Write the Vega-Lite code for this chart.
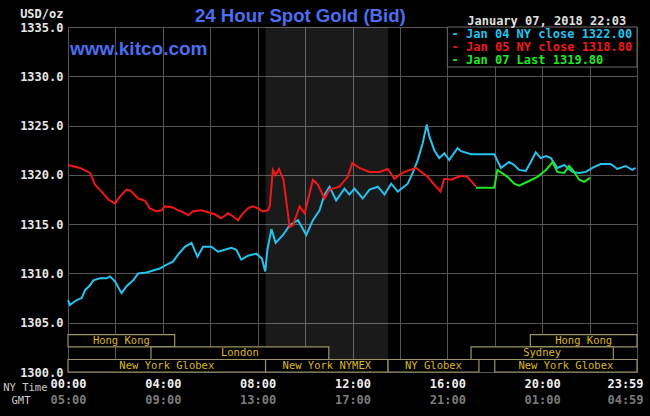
{
  "$schema": "https://vega.github.io/schema/vega-lite/v6.json",
  "width": 569,
  "height": 345,
  "autosize": "none",
  "padding": {"left": 68, "top": 27, "right": 13, "bottom": 44},
  "background": "#000000",
  "config": {"view": {"stroke": null}},
  "title": {"text": "24 Hour Spot Gold (Bid)", "anchor": "start", "frame": "group", "dx": 127, "dy": 19.5, "offset": 1, "font": "Liberation Sans", "fontSize": 18.6, "fontWeight": "bold", "color": "#4b6ff0"},
  "datasets": {
    "prices": [
      {"series":"Jan 04","hour":0.00,"price":1307.3},{"series":"Jan 04","hour":0.08,"price":1306.8},{"series":"Jan 04","hour":0.37,"price":1307.3},{"series":"Jan 04","hour":0.58,"price":1307.5},{"series":"Jan 04","hour":0.72,"price":1308.3},{"series":"Jan 04","hour":0.93,"price":1308.8},{"series":"Jan 04","hour":1.07,"price":1309.3},{"series":"Jan 04","hour":1.35,"price":1309.5},{"series":"Jan 04","hour":1.63,"price":1309.5},{"series":"Jan 04","hour":1.77,"price":1309.7},{"series":"Jan 04","hour":1.98,"price":1309.2},{"series":"Jan 04","hour":2.26,"price":1308.0},{"series":"Jan 04","hour":2.47,"price":1308.7},{"series":"Jan 04","hour":2.75,"price":1309.3},{"series":"Jan 04","hour":2.96,"price":1310.0},{"series":"Jan 04","hour":3.31,"price":1310.1},{"series":"Jan 04","hour":3.59,"price":1310.3},{"series":"Jan 04","hour":3.87,"price":1310.5},{"series":"Jan 04","hour":4.16,"price":1310.9},{"series":"Jan 04","hour":4.43,"price":1311.2},{"series":"Jan 04","hour":4.64,"price":1311.9},{"series":"Jan 04","hour":4.93,"price":1312.7},{"series":"Jan 04","hour":5.21,"price":1313.1},{"series":"Jan 04","hour":5.46,"price":1311.7},{"series":"Jan 04","hour":5.70,"price":1312.7},{"series":"Jan 04","hour":6.05,"price":1312.7},{"series":"Jan 04","hour":6.33,"price":1312.2},{"series":"Jan 04","hour":6.61,"price":1312.4},{"series":"Jan 04","hour":6.89,"price":1312.6},{"series":"Jan 04","hour":7.10,"price":1312.4},{"series":"Jan 04","hour":7.31,"price":1311.4},{"series":"Jan 04","hour":7.59,"price":1311.8},{"series":"Jan 04","hour":7.95,"price":1312.0},{"series":"Jan 04","hour":8.18,"price":1311.5},{"series":"Jan 04","hour":8.32,"price":1310.2},{"series":"Jan 04","hour":8.41,"price":1312.4},{"series":"Jan 04","hour":8.58,"price":1314.5},{"series":"Jan 04","hour":8.76,"price":1313.1},{"series":"Jan 04","hour":9.07,"price":1313.9},{"series":"Jan 04","hour":9.35,"price":1314.9},{"series":"Jan 04","hour":9.70,"price":1315.4},{"series":"Jan 04","hour":10.05,"price":1313.9},{"series":"Jan 04","hour":10.33,"price":1315.4},{"series":"Jan 04","hour":10.61,"price":1316.4},{"series":"Jan 04","hour":10.82,"price":1318.0},{"series":"Jan 04","hour":11.03,"price":1318.8},{"series":"Jan 04","hour":11.31,"price":1317.4},{"series":"Jan 04","hour":11.66,"price":1318.6},{"series":"Jan 04","hour":11.87,"price":1318.0},{"series":"Jan 04","hour":12.08,"price":1318.6},{"series":"Jan 04","hour":12.43,"price":1317.6},{"series":"Jan 04","hour":12.72,"price":1318.5},{"series":"Jan 04","hour":13.07,"price":1318.8},{"series":"Jan 04","hour":13.35,"price":1318.0},{"series":"Jan 04","hour":13.63,"price":1319.1},{"series":"Jan 04","hour":13.91,"price":1318.3},{"series":"Jan 04","hour":14.33,"price":1319.1},{"series":"Jan 04","hour":14.54,"price":1320.2},{"series":"Jan 04","hour":14.75,"price":1321.5},{"series":"Jan 04","hour":14.96,"price":1323.2},{"series":"Jan 04","hour":15.13,"price":1325.1},{"series":"Jan 04","hour":15.24,"price":1323.9},{"series":"Jan 04","hour":15.45,"price":1322.5},{"series":"Jan 04","hour":15.66,"price":1321.7},{"series":"Jan 04","hour":15.87,"price":1322.2},{"series":"Jan 04","hour":16.08,"price":1321.5},{"series":"Jan 04","hour":16.43,"price":1322.7},{"series":"Jan 04","hour":16.58,"price":1322.4},{"series":"Jan 04","hour":17.00,"price":1322.1},{"series":"Jan 04","hour":17.98,"price":1322.1},{"series":"Jan 04","hour":18.26,"price":1320.7},{"series":"Jan 04","hour":18.61,"price":1321.3},{"series":"Jan 04","hour":18.82,"price":1321.0},{"series":"Jan 04","hour":19.03,"price":1320.5},{"series":"Jan 04","hour":19.31,"price":1320.4},{"series":"Jan 04","hour":19.52,"price":1321.3},{"series":"Jan 04","hour":19.73,"price":1322.3},{"series":"Jan 04","hour":19.94,"price":1321.7},{"series":"Jan 04","hour":20.16,"price":1321.9},{"series":"Jan 04","hour":20.37,"price":1321.7},{"series":"Jan 04","hour":20.64,"price":1320.7},{"series":"Jan 04","hour":20.93,"price":1321.0},{"series":"Jan 04","hour":21.28,"price":1320.3},{"series":"Jan 04","hour":21.56,"price":1320.2},{"series":"Jan 04","hour":21.84,"price":1320.3},{"series":"Jan 04","hour":22.12,"price":1320.7},{"series":"Jan 04","hour":22.46,"price":1321.1},{"series":"Jan 04","hour":22.89,"price":1321.1},{"series":"Jan 04","hour":23.17,"price":1320.6},{"series":"Jan 04","hour":23.52,"price":1320.9},{"series":"Jan 04","hour":23.80,"price":1320.5},{"series":"Jan 04","hour":23.94,"price":1320.7},
      {"series":"Jan 05","hour":0.00,"price":1321.0},{"series":"Jan 05","hour":0.51,"price":1320.7},{"series":"Jan 05","hour":0.93,"price":1320.2},{"series":"Jan 05","hour":1.14,"price":1319.0},{"series":"Jan 05","hour":1.42,"price":1318.3},{"series":"Jan 05","hour":1.70,"price":1317.5},{"series":"Jan 05","hour":1.98,"price":1317.1},{"series":"Jan 05","hour":2.19,"price":1317.8},{"series":"Jan 05","hour":2.47,"price":1318.5},{"series":"Jan 05","hour":2.64,"price":1318.4},{"series":"Jan 05","hour":2.96,"price":1317.6},{"series":"Jan 05","hour":3.24,"price":1317.4},{"series":"Jan 05","hour":3.45,"price":1316.6},{"series":"Jan 05","hour":3.73,"price":1316.3},{"series":"Jan 05","hour":3.95,"price":1316.4},{"series":"Jan 05","hour":4.08,"price":1316.8},{"series":"Jan 05","hour":4.43,"price":1316.7},{"series":"Jan 05","hour":4.64,"price":1316.4},{"series":"Jan 05","hour":4.79,"price":1316.3},{"series":"Jan 05","hour":5.07,"price":1315.9},{"series":"Jan 05","hour":5.28,"price":1316.3},{"series":"Jan 05","hour":5.63,"price":1316.4},{"series":"Jan 05","hour":5.91,"price":1316.2},{"series":"Jan 05","hour":6.19,"price":1316.0},{"series":"Jan 05","hour":6.47,"price":1315.6},{"series":"Jan 05","hour":6.75,"price":1316.1},{"series":"Jan 05","hour":6.96,"price":1315.8},{"series":"Jan 05","hour":7.17,"price":1315.4},{"series":"Jan 05","hour":7.38,"price":1316.1},{"series":"Jan 05","hour":7.59,"price":1316.6},{"series":"Jan 05","hour":7.80,"price":1316.8},{"series":"Jan 05","hour":8.01,"price":1316.6},{"series":"Jan 05","hour":8.22,"price":1316.3},{"series":"Jan 05","hour":8.43,"price":1316.4},{"series":"Jan 05","hour":8.51,"price":1316.8},{"series":"Jan 05","hour":8.64,"price":1320.5},{"series":"Jan 05","hour":8.76,"price":1320.0},{"series":"Jan 05","hour":8.90,"price":1320.6},{"series":"Jan 05","hour":9.09,"price":1319.5},{"series":"Jan 05","hour":9.22,"price":1317.1},{"series":"Jan 05","hour":9.35,"price":1314.7},{"series":"Jan 05","hour":9.49,"price":1314.9},{"series":"Jan 05","hour":9.77,"price":1316.8},{"series":"Jan 05","hour":9.98,"price":1316.1},{"series":"Jan 05","hour":10.33,"price":1319.5},{"series":"Jan 05","hour":10.54,"price":1319.0},{"series":"Jan 05","hour":10.82,"price":1317.6},{"series":"Jan 05","hour":11.03,"price":1318.5},{"series":"Jan 05","hour":11.45,"price":1318.8},{"series":"Jan 05","hour":11.80,"price":1319.8},{"series":"Jan 05","hour":11.99,"price":1321.2},{"series":"Jan 05","hour":12.29,"price":1320.7},{"series":"Jan 05","hour":12.72,"price":1320.3},{"series":"Jan 05","hour":13.14,"price":1320.3},{"series":"Jan 05","hour":13.49,"price":1320.6},{"series":"Jan 05","hour":13.77,"price":1319.6},{"series":"Jan 05","hour":13.98,"price":1320.0},{"series":"Jan 05","hour":14.19,"price":1320.3},{"series":"Jan 05","hour":14.68,"price":1320.7},{"series":"Jan 05","hour":15.17,"price":1319.8},{"series":"Jan 05","hour":15.45,"price":1319.0},{"series":"Jan 05","hour":15.71,"price":1318.3},{"series":"Jan 05","hour":15.87,"price":1319.6},{"series":"Jan 05","hour":16.16,"price":1319.5},{"series":"Jan 05","hour":16.58,"price":1319.9},{"series":"Jan 05","hour":16.85,"price":1319.8},{"series":"Jan 05","hour":17.21,"price":1318.8},
      {"series":"Jan 07","hour":17.21,"price":1318.7},{"series":"Jan 07","hour":17.98,"price":1318.7},{"series":"Jan 07","hour":18.11,"price":1320.5},{"series":"Jan 07","hour":18.54,"price":1319.8},{"series":"Jan 07","hour":18.82,"price":1319.1},{"series":"Jan 07","hour":19.03,"price":1318.9},{"series":"Jan 07","hour":19.38,"price":1319.3},{"series":"Jan 07","hour":19.80,"price":1319.8},{"series":"Jan 07","hour":20.16,"price":1320.5},{"series":"Jan 07","hour":20.44,"price":1321.3},{"series":"Jan 07","hour":20.64,"price":1320.3},{"series":"Jan 07","hour":20.93,"price":1320.2},{"series":"Jan 07","hour":21.14,"price":1320.9},{"series":"Jan 07","hour":21.35,"price":1320.3},{"series":"Jan 07","hour":21.56,"price":1319.5},{"series":"Jan 07","hour":21.77,"price":1319.3},{"series":"Jan 07","hour":22.02,"price":1319.7}
    ],
    "sessions": [
      {"market":"Hong Kong","start":0,"end":4.5,"lane":"1"},
      {"market":"Hong Kong","start":19.5,"end":24,"lane":"1"},
      {"market":"London","start":3.5,"end":11,"lane":"2"},
      {"market":"Sydney","start":17,"end":23,"lane":"2"},
      {"market":"New York Globex","start":0,"end":8.333,"lane":"3"},
      {"market":"New York NYMEX","start":8.333,"end":13.5,"lane":"3"},
      {"market":"NY Globex","start":13.5,"end":17.333,"lane":"3"},
      {"market":"New York Globex","start":18,"end":24,"lane":"3"}
    ],
    "one": [{}]
  },
  "layer": [
    {
      "data": {"name": "one"},
      "mark": {"type": "rect", "fill": "#ffffff", "opacity": 0.1},
      "encoding": {
        "x": {"datum": 8.333, "type": "quantitative", "scale": {"domain": [0, 24], "nice": false},
          "axis": {"orient": "bottom", "offset": 15, "values": [0, 4, 8, 12, 16, 20, 24], "grid": false, "domain": false, "ticks": false,
            "labelExpr": "datum.value == 24 ? '04:59' : (((datum.value + 5) % 24) < 10 ? '0' : '') + ((datum.value + 5) % 24) + ':00'",
            "labelOverlap": false, "labelFlush": false, "labelFont": "DejaVu Sans Mono", "labelFontSize": 12, "labelFontWeight": "bold", "labelColor": "#7c7c7c",
            "labelPadding": 7, "labelBaseline": "top", "labelOffset": {"condition": {"test": "datum.value == 24", "value": -12}, "value": 0},
            "title": "GMT", "titleX": -38, "titleY": 13, "titleAlign": "right", "titleBaseline": "middle", "titleFont": "DejaVu Sans Mono", "titleFontSize": 10.5, "titleFontWeight": "normal", "titleColor": "#cccccc"}},
        "x2": {"datum": 13.5}
      }
    },
    {
      "data": {"name": "prices"},
      "mark": {"type": "line", "strokeWidth": 2, "interpolate": "linear"},
      "encoding": {
        "x": {"field": "hour", "type": "quantitative", "scale": {"domain": [0, 24], "nice": false},
          "axis": {"orient": "bottom", "values": [0, 2, 4, 6, 8, 10, 12, 14, 16, 18, 20, 22, 24], "grid": true, "gridColor": "#555555", "gridWidth": 1, "domain": false, "ticks": false,
            "labelExpr": "datum.value == 24 ? '23:59' : (datum.value % 4 == 0 ? (datum.value < 10 ? '0' : '') + datum.value + ':00' : '')",
            "labelOverlap": false, "labelFlush": false, "labelFont": "DejaVu Sans Mono", "labelFontSize": 12, "labelFontWeight": "bold", "labelColor": "#f0f0f0",
            "labelPadding": 6, "labelBaseline": "top", "labelOffset": {"condition": {"test": "datum.value == 24", "value": -12}, "value": 0},
            "title": "NY Time", "titleX": -21, "titleY": 15, "titleAlign": "right", "titleBaseline": "middle", "titleFont": "DejaVu Sans Mono", "titleFontSize": 10.5, "titleFontWeight": "normal", "titleColor": "#cccccc"}},
        "y": {"field": "price", "type": "quantitative", "scale": {"domain": [1300, 1335], "nice": false, "zero": false},
          "axis": {"orient": "left", "values": [1300, 1305, 1310, 1315, 1320, 1325, 1330, 1335], "format": ".1f", "grid": true, "gridColor": "#555555", "gridWidth": 1, "domain": false, "ticks": false,
            "labelFont": "DejaVu Sans Mono", "labelFontSize": 12, "labelFontWeight": "bold", "labelColor": "#e8e8e8", "labelPadding": 5, "labelFlush": false,
            "title": "USD/oz", "titleAngle": 0, "titleAlign": "right", "titleX": -5, "titleY": -14, "titleBaseline": "middle", "titleFont": "DejaVu Sans Mono", "titleFontSize": 12, "titleFontWeight": "bold", "titleColor": "#e8e8e8"}},
        "color": {"field": "series", "type": "nominal", "scale": {"domain": ["Jan 04", "Jan 05", "Jan 07"], "range": ["#26c3ef", "#f01818", "#22e822"]}, "legend": null},
        "order": {"field": "hour"}
      }
    },
    {
      "data": {"name": "one"},
      "mark": {"type": "rect", "fill": "#000000", "stroke": "#6a6a6a", "strokeWidth": 1},
      "encoding": {
        "x": {"datum": 16.0, "type": "quantitative", "axis": null}, "x2": {"datum": 24},
        "y": {"datum": 1335, "type": "quantitative", "axis": null}, "y2": {"datum": 1330.94}
      }
    },
    {
      "data": {"name": "one"},
      "mark": {"type": "text", "align": "left", "baseline": "middle", "font": "DejaVu Sans Mono", "fontSize": 12, "fontWeight": "bold", "color": "#26c3ef"},
      "encoding": {"x": {"datum": 16.18, "type": "quantitative", "axis": null}, "y": {"datum": 1334.25, "type": "quantitative", "axis": null}, "text": {"value": "- Jan 04 NY close 1322.00"}}
    },
    {
      "data": {"name": "one"},
      "mark": {"type": "text", "align": "left", "baseline": "middle", "font": "DejaVu Sans Mono", "fontSize": 12, "fontWeight": "bold", "color": "#f01818"},
      "encoding": {"x": {"datum": 16.18, "type": "quantitative", "axis": null}, "y": {"datum": 1332.97, "type": "quantitative", "axis": null}, "text": {"value": "- Jan 05 NY close 1318.80"}}
    },
    {
      "data": {"name": "one"},
      "mark": {"type": "text", "align": "left", "baseline": "middle", "font": "DejaVu Sans Mono", "fontSize": 12, "fontWeight": "bold", "color": "#22e822"},
      "encoding": {"x": {"datum": 16.18, "type": "quantitative", "axis": null}, "y": {"datum": 1331.7, "type": "quantitative", "axis": null}, "text": {"value": "- Jan 07 Last 1319.80"}}
    },
    {
      "data": {"name": "one"},
      "mark": {"type": "text", "align": "left", "baseline": "middle", "font": "DejaVu Sans Mono", "fontSize": 12, "fontWeight": "bold", "color": "#e0e0e0"},
      "encoding": {"x": {"datum": 16.84, "type": "quantitative", "axis": null}, "y": {"datum": 1335.64, "type": "quantitative", "axis": null}, "text": {"value": "January 07, 2018 22:03"}}
    },
    {
      "data": {"name": "one"},
      "mark": {"type": "text", "align": "left", "baseline": "middle", "font": "Liberation Sans", "fontSize": 19, "fontWeight": "bold", "color": "#4b6ff0"},
      "encoding": {"x": {"datum": 0.08, "type": "quantitative", "axis": null}, "y": {"datum": 1332.77, "type": "quantitative", "axis": null}, "text": {"value": "www.kitco.com"}}
    },
    {
      "data": {"name": "sessions"},
      "transform": [{"filter": "datum.lane == '1'"}],
      "mark": {"type": "rect", "fill": "#000000", "stroke": "#9c9462", "strokeWidth": 1.2},
      "encoding": {
        "x": {"field": "start", "type": "quantitative", "axis": null}, "x2": {"field": "end"},
        "y": {"datum": 1302.54, "type": "quantitative", "axis": null}, "y2": {"datum": 1303.8}
      }
    },
    {
      "data": {"name": "sessions"},
      "transform": [{"filter": "datum.lane == '2'"}],
      "mark": {"type": "rect", "fill": "#000000", "stroke": "#9c9462", "strokeWidth": 1.2},
      "encoding": {
        "x": {"field": "start", "type": "quantitative", "axis": null}, "x2": {"field": "end"},
        "y": {"datum": 1301.27, "type": "quantitative", "axis": null}, "y2": {"datum": 1302.54}
      }
    },
    {
      "data": {"name": "sessions"},
      "transform": [{"filter": "datum.lane == '3'"}],
      "mark": {"type": "rect", "fill": "#000000", "stroke": "#9c9462", "strokeWidth": 1.2},
      "encoding": {
        "x": {"field": "start", "type": "quantitative", "axis": null}, "x2": {"field": "end"},
        "y": {"datum": 1300, "type": "quantitative", "axis": null}, "y2": {"datum": 1301.27}
      }
    },
    {
      "data": {"name": "sessions"},
      "transform": [{"filter": "datum.lane == '1'"}, {"fold": ["start", "end"], "as": ["edge", "t"]}, {"aggregate": [{"op": "mean", "field": "t", "as": "mid"}], "groupby": ["market", "start"]}],
      "mark": {"type": "text", "align": "center", "baseline": "middle", "font": "DejaVu Sans Mono", "fontSize": 10.5, "color": "#dcb820"},
      "encoding": {"x": {"field": "mid", "type": "quantitative", "axis": null}, "y": {"datum": 1303.17, "type": "quantitative", "axis": null}, "text": {"field": "market"}}
    },
    {
      "data": {"name": "sessions"},
      "transform": [{"filter": "datum.lane == '2'"}, {"fold": ["start", "end"], "as": ["edge", "t"]}, {"aggregate": [{"op": "mean", "field": "t", "as": "mid"}], "groupby": ["market", "start"]}],
      "mark": {"type": "text", "align": "center", "baseline": "middle", "font": "DejaVu Sans Mono", "fontSize": 10.5, "color": "#dcb820"},
      "encoding": {"x": {"field": "mid", "type": "quantitative", "axis": null}, "y": {"datum": 1301.9, "type": "quantitative", "axis": null}, "text": {"field": "market"}}
    },
    {
      "data": {"name": "sessions"},
      "transform": [{"filter": "datum.lane == '3'"}, {"fold": ["start", "end"], "as": ["edge", "t"]}, {"aggregate": [{"op": "mean", "field": "t", "as": "mid"}], "groupby": ["market", "start"]}],
      "mark": {"type": "text", "align": "center", "baseline": "middle", "font": "DejaVu Sans Mono", "fontSize": 10.5, "color": "#dcb820"},
      "encoding": {"x": {"field": "mid", "type": "quantitative", "axis": null}, "y": {"datum": 1300.63, "type": "quantitative", "axis": null}, "text": {"field": "market"}}
    }
  ],
  "resolve": {"axis": {"x": "independent", "y": "independent"}}
}
